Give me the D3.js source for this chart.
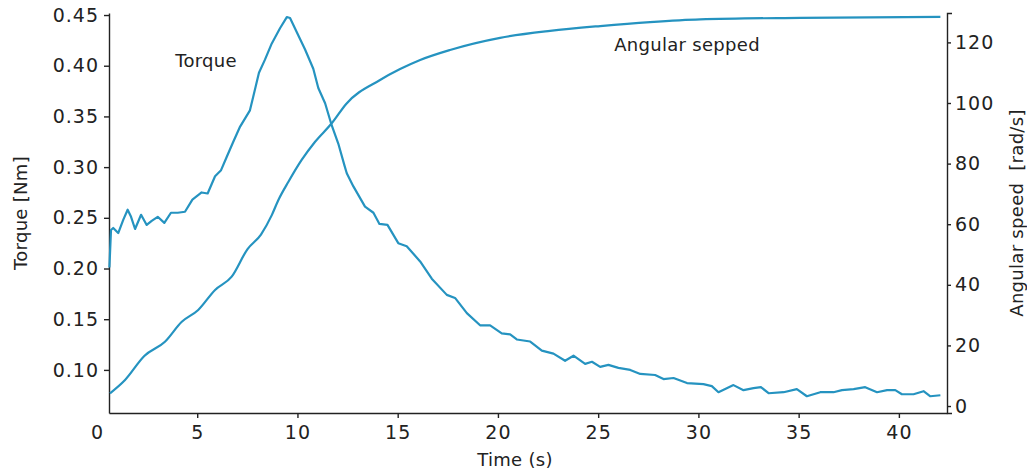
<!doctype html>
<html lang='en'>
<head>
    <meta charset='utf-8'>
    <title>Torque and angular speed</title>
    <style>
        body { margin: 0; background: white; }
        svg { display: block; font-family: 'DejaVu Sans', sans-serif; }
        .axis path, .axis line { stroke: #222; stroke-width: 1.4px; }
        .axis text { fill: #222; font-size: 19px; letter-spacing: 1px; font-family: 'DejaVu Sans', sans-serif; }
        .label { fill: #222; font-size: 18px; letter-spacing: 0.3px; }
        .curve { fill: none; stroke: #2593c0; stroke-width: 2.2px; stroke-linejoin: round; }
    </style>
    <script src='https://cdn.jsdelivr.net/npm/d3@7/dist/d3.min.js'></script>
</head>
<body>
<div id='chart'></div>
<script>
    // time (s) and torque (Nm)
    const torqueTime = [0.62, 0.70, 0.81, 1.06, 1.31, 1.53, 1.70, 1.90, 2.20, 2.48, 2.73, 3.03, 3.36, 3.69,
        4.03, 4.39, 4.76, 5.22, 5.52, 5.89, 6.19, 6.47, 6.80, 7.14, 7.63, 7.80, 8.08, 8.38, 8.72, 9.13,
        9.47, 9.63, 10.04, 10.38, 10.79, 11.04, 11.38, 11.68, 12.04, 12.34, 12.46, 12.79, 13.37, 13.79,
        14.09, 14.49, 15.03, 15.45, 16.12, 16.70, 17.45, 17.86, 18.45, 19.11, 19.61, 20.19, 20.61, 20.94,
        21.61, 22.19, 22.77, 23.35, 23.77, 24.35, 24.69, 25.10, 25.51, 26.01, 26.60, 27.10, 27.84, 28.26,
        28.76, 29.43, 30.25, 30.67, 31.00, 31.75, 32.25, 32.75, 33.12, 33.50, 34.25, 34.91, 35.41, 36.08,
        36.74, 37.16, 37.74, 38.32, 38.91, 39.41, 39.82, 40.15, 40.73, 41.23, 41.57, 42.07];
    const torque = [0.201, 0.238, 0.240, 0.235, 0.248, 0.258, 0.251, 0.239, 0.253, 0.243, 0.247, 0.251, 0.245, 0.255,
        0.255, 0.256, 0.268, 0.275, 0.274, 0.291, 0.297, 0.310, 0.325, 0.340, 0.356, 0.370, 0.393, 0.406, 0.422, 0.437,
        0.448, 0.447, 0.430, 0.416, 0.397, 0.378, 0.363, 0.343, 0.323, 0.302, 0.294, 0.281, 0.261, 0.255,
        0.244, 0.243, 0.225, 0.222, 0.207, 0.190, 0.174, 0.171, 0.156, 0.144, 0.144, 0.136, 0.135, 0.130,
        0.128, 0.119, 0.116, 0.109, 0.114, 0.106, 0.108, 0.103, 0.105, 0.102, 0.100, 0.096, 0.095, 0.091,
        0.092, 0.087, 0.086, 0.084, 0.078, 0.085, 0.080, 0.082, 0.083, 0.077, 0.078, 0.081, 0.074, 0.078,
        0.078, 0.080, 0.081, 0.083, 0.078, 0.080, 0.080, 0.076, 0.076, 0.079, 0.074, 0.075];

    // time (s) and angular speed (rad/s)
    const speedTime = [0.65, 1.40, 2.36, 3.39, 4.23, 5.05, 5.89, 6.72, 7.51, 8.18, 8.72, 9.05, 9.55, 10.21,
        10.88, 11.71, 12.43, 14.12, 15.12, 16.12, 17.61, 20.11, 22.60, 25.10, 27.59, 30.09, 35.08, 42.07];
    const speed = [4.2, 8.6, 16.5, 21.2, 27.8, 31.7, 38.3, 42.7, 51.8, 56.6, 63.0, 68.0, 74.0, 81.2,
        87.2, 93.3, 99.7, 107.6, 111.2, 114.2, 117.5, 121.5, 123.8, 125.4, 126.7, 127.6, 128.1, 128.4];

    const timeTicks = [0, 5, 10, 15, 20, 25, 30, 35, 40];
    const torqueTicks = [0.10, 0.15, 0.20, 0.25, 0.30, 0.35, 0.40, 0.45];
    const speedTicks = [0, 20, 40, 60, 80, 100, 120];

    const W = 1027, H = 472;
    const margin = {top: 13, left: 109, right: 80, bottom: 59};
    const width = W - margin.left - margin.right;
    const height = H - margin.top - margin.bottom;

    const svg = d3.select('#chart').append('svg')
        .attr('width', W)
        .attr('height', H);
    const g = svg.append('g')
        .attr('transform', `translate(${margin.left},${margin.top})`);

    const x = d3.scaleLinear().domain([0.6, 42.4]).range([0, width]);
    const yL = d3.scaleLinear().domain([0.0575, 0.452]).range([height, 0]);
    const yR = d3.scaleLinear().domain([-2.3, 129.7]).range([height, 0]);

    // axes
    const xAxis = g.append('g')
        .attr('class', 'axis')
        .attr('transform', `translate(0,${height})`)
        .call(d3.axisBottom(x).tickValues(timeTicks).tickFormat(d3.format('d')).tickSize(5).tickSizeOuter(0).tickPadding(8));
    // the 0 label sits left of the axis start, with no tick mark
    xAxis.selectAll('.tick').filter(d => d === 0).select('line').remove();

    g.append('g')
        .attr('class', 'axis')
        .call(d3.axisLeft(yL).tickValues(torqueTicks).tickFormat(d3.format('.2f')).tickSize(5).tickSizeOuter(0).tickPadding(5));

    g.append('g')
        .attr('class', 'axis')
        .attr('transform', `translate(${width},0)`)
        .call(d3.axisRight(yR).tickValues(speedTicks).tickFormat(d3.format('d')).tickSize(4).tickSizeOuter(5).tickPadding(4));

    // curves
    const torqueLine = d3.line()
        .x((d, i) => x(torqueTime[i]))
        .y(d => yL(d));
    g.append('path')
        .datum(torque)
        .attr('class', 'curve')
        .attr('d', torqueLine);

    const speedLine = d3.line()
        .x((d, i) => x(speedTime[i]))
        .y(d => yR(d))
        .curve(d3.curveMonotoneX);
    g.append('path')
        .datum(speed)
        .attr('class', 'curve')
        .attr('d', speedLine);

    // labels
    svg.append('text')
        .attr('class', 'label')
        .attr('transform', `translate(27,${margin.top + height / 2}) rotate(-90)`)
        .attr('text-anchor', 'middle')
        .text('Torque [Nm]');

    svg.append('text')
        .attr('class', 'label')
        .attr('transform', `translate(1023,${margin.top + height / 2}) rotate(-90)`)
        .attr('text-anchor', 'middle')
        .style('white-space', 'pre')
        .text('Angular speed  [rad/s]');

    svg.append('text')
        .attr('class', 'label')
        .attr('x', 515)
        .attr('y', 466)
        .attr('text-anchor', 'middle')
        .text('Time (s)');

    g.append('text')
        .attr('class', 'label')
        .attr('x', x(3.9))
        .attr('y', yL(0.405) + 6)
        .text('Torque');

    g.append('text')
        .attr('class', 'label')
        .attr('x', x(25.8))
        .attr('y', yR(119) + 6)
        .text('Angular sepped');
</script>
</body>
</html>
